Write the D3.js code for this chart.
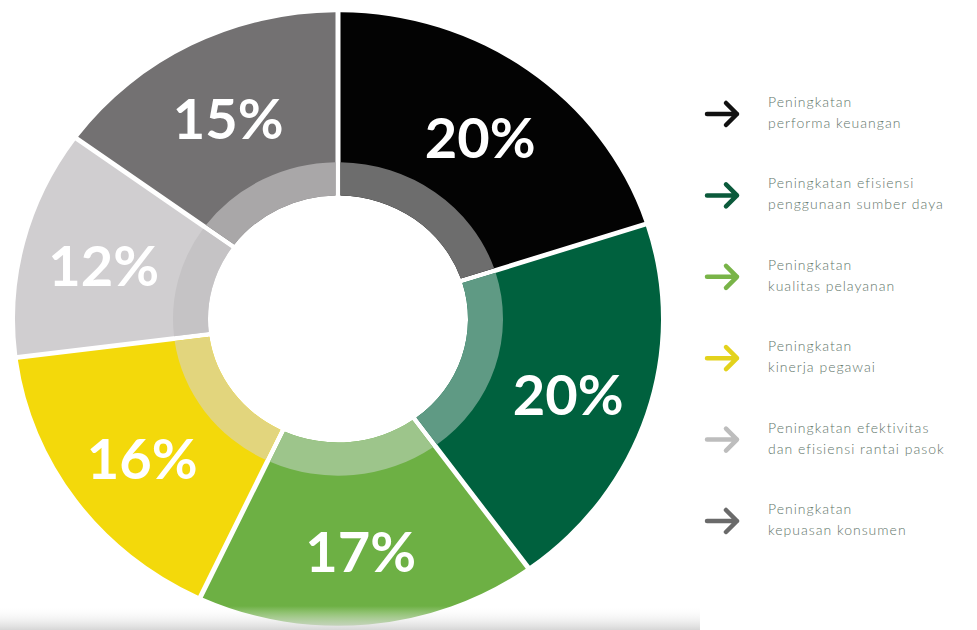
<!DOCTYPE html>
<html>
<head>
<meta charset="utf-8">
<script src="https://cdn.jsdelivr.net/npm/d3@7"></script>
<style>
  html, body { margin: 0; padding: 0; background: #ffffff; }
  svg { display: block; }
</style>
</head>
<body>
<svg id="chart" width="977" height="630"></svg>
<script>
// Share of each improvement area, clockwise from 12 o'clock
const categories = [
  "Peningkatan performa keuangan",
  "Peningkatan efisiensi penggunaan sumber daya",
  "Peningkatan kualitas pelayanan",
  "Peningkatan kinerja pegawai",
  "Peningkatan efektivitas dan efisiensi rantai pasok",
  "Peningkatan kepuasan konsumen"
];
const shares = [20, 20, 17, 16, 12, 15];
const valueLabels = ["20%", "20%", "17%", "16%", "12%", "15%"];

// Legend text, two lines per entry
const legendLines = [
  ["Peningkatan", "performa keuangan"],
  ["Peningkatan efisiensi", "penggunaan sumber daya"],
  ["Peningkatan", "kualitas pelayanan"],
  ["Peningkatan", "kinerja pegawai"],
  ["Peningkatan efektivitas", "dan efisiensi rantai pasok"],
  ["Peningkatan", "kepuasan konsumen"]
];

const sliceColors = ["#030303", "#00613e", "#6db044", "#f3d90b", "#d0ced0", "#737172"];
const ringColors  = ["#6d6d6d", "#5f9a84", "#9dc58b", "#e2d57d", "#c5c3c5", "#a9a7a8"];
const arrowColors = ["#111111", "#0b5a3b", "#79b448", "#e3d21c", "#bdbdbd", "#6a6a6a"];

const svg = d3.select("#chart");
const cx = 338, cy = 319, squash = 0.95;
const rInner = 130, rRing = 165, rOuter = 323, rLabel = 242;

const pie = d3.pie().sort(null).value(d => d).startAngle(0).endAngle(2 * Math.PI);
const arcs = pie(shares);

const outerArc = d3.arc().innerRadius(rInner).outerRadius(rOuter)
  .padAngle(0.05).padRadius(100);
const ringArc = d3.arc().innerRadius(rInner).outerRadius(rRing)
  .padAngle(0.05).padRadius(100);
const labelArc = d3.arc().innerRadius(rLabel).outerRadius(rLabel);

const donut = svg.append("g")
  .attr("transform", `translate(${cx},${cy}) scale(1,${squash})`);

donut.selectAll("path.slice")
  .data(arcs)
  .join("path")
  .attr("class", "slice")
  .attr("d", outerArc)
  .attr("fill", (d, i) => sliceColors[i]);

donut.selectAll("path.ring")
  .data(arcs)
  .join("path")
  .attr("class", "ring")
  .attr("d", ringArc)
  .attr("fill", (d, i) => ringColors[i]);

// Percentage labels
svg.append("g").selectAll("text")
  .data(arcs)
  .join("text")
  .attr("x", d => cx + labelArc.centroid(d)[0])
  .attr("y", d => cy + labelArc.centroid(d)[1] * squash + 3)
  .attr("text-anchor", "middle")
  .attr("dominant-baseline", "central")
  .attr("fill", "#ffffff")
  .attr("font-family", "Lato, 'Open Sans', sans-serif")
  .attr("font-weight", 700)
  .attr("font-size", 56)
  .text((d, i) => valueLabels[i]);

// Soft floor shadow under the ring
const defs = svg.append("defs");
const grad = defs.append("linearGradient")
  .attr("id", "floor").attr("x1", 0).attr("y1", 0).attr("x2", 0).attr("y2", 1);
grad.append("stop").attr("offset", "0%").attr("stop-color", "#ffffff").attr("stop-opacity", 0);
grad.append("stop").attr("offset", "100%").attr("stop-color", "#d4d4d4").attr("stop-opacity", 0.95);
svg.append("rect")
  .attr("x", 0).attr("y", 606).attr("width", 700).attr("height", 24)
  .attr("fill", "url(#floor)");

// Legend
const legendY = d3.scalePoint()
  .domain(d3.range(categories.length))
  .range([114, 521]);
const legend = svg.append("g");
const items = legend.selectAll("g.item")
  .data(categories)
  .join("g")
  .attr("class", "item")
  .attr("transform", (d, i) => `translate(0,${legendY(i)})`);

items.append("path")
  .attr("d", "M707,0 H737 M726,-11 L737,0 L726,11")
  .attr("fill", "none")
  .attr("stroke", (d, i) => arrowColors[i])
  .attr("stroke-width", 4.5)
  .attr("stroke-linecap", "round")
  .attr("stroke-linejoin", "round");

items.append("text")
  .attr("x", 768)
  .attr("y", -7)
  .attr("font-family", "Lato, 'Open Sans', sans-serif")
  .attr("font-weight", 300)
  .attr("font-size", 14)
  .attr("letter-spacing", 1)
  .attr("fill", "#5f766b")
  .selectAll("tspan")
  .data((d, i) => legendLines[i])
  .join("tspan")
  .attr("x", 768)
  .attr("dy", (d, j) => j === 0 ? 0 : 21)
  .text(d => d);
</script>
</body>
</html>
